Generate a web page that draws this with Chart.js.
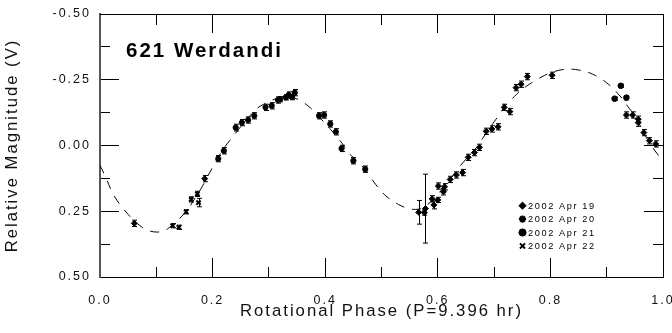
<!DOCTYPE html>
<html><head><meta charset="utf-8">
<script src="https://cdn.jsdelivr.net/npm/chart.js@4/dist/chart.umd.min.js"></script>
<style>html,body{margin:0;padding:0;background:#fff;}</style>
</head><body>
<canvas id="c" width="672" height="333"></canvas>
<script>
// ---- data ----
const titleText = '621 Werdandi';
const xAxisTitle = 'Rotational Phase (P=9.396 hr)';
const yAxisTitle = 'Relative Magnitude (V)';
const seriesLabels = ['2002 Apr 19', '2002 Apr 20', '2002 Apr 21', '2002 Apr 22'];
const seriesStyles = ['rectRot', 'star', 'circle', 'crossRot'];

const apr19Phase = [0.061, 0.186, 0.566, 0.576, 0.578, 0.590, 0.593, 0.600, 0.601, 0.610, 0.612, 0.622, 0.633, 0.644, 0.654, 0.665, 0.674, 0.686, 0.696, 0.707, 0.718, 0.728, 0.739, 0.748, 0.759, 0.803, 0.935, 0.946, 0.956, 0.956, 0.966, 0.976, 0.987];
const apr19Mag   = [0.296, 0.126, 0.254, 0.255, 0.240, 0.203, 0.226, 0.207, 0.154, 0.176, 0.157, 0.129, 0.112, 0.103, 0.045, 0.027, 0.007, -0.054, -0.063, -0.071, -0.145, -0.129, -0.220, -0.233, -0.262, -0.267, -0.116, -0.116, -0.100, -0.087, -0.049, -0.018, -0.006];
const apr19Err   = [0.012, 0.012, 0.045, 0.010, 0.131, 0.012, 0.015, 0.010, 0.012, 0.012, 0.012, 0.012, 0.012, 0.012, 0.012, 0.012, 0.012, 0.012, 0.012, 0.012, 0.012, 0.012, 0.012, 0.012, 0.012, 0.012, 0.012, 0.012, 0.012, 0.014, 0.012, 0.012, 0.012];

const apr20Phase = [0.210, 0.220, 0.241, 0.252, 0.263, 0.274, 0.294, 0.305, 0.316, 0.320, 0.330, 0.335, 0.341, 0.346, 0.389, 0.398, 0.409, 0.419, 0.429, 0.450, 0.471];
const apr20Mag   = [0.050, 0.020, -0.068, -0.087, -0.097, -0.113, -0.145, -0.151, -0.173, -0.176, -0.183, -0.192, -0.184, -0.201, -0.113, -0.116, -0.082, -0.052, 0.011, 0.058, 0.090];
const apr20Err   = [0.012, 0.012, 0.013, 0.012, 0.012, 0.012, 0.012, 0.012, 0.012, 0.010, 0.010, 0.012, 0.010, 0.012, 0.012, 0.012, 0.012, 0.012, 0.012, 0.012, 0.012];

const apr21Phase = [0.914, 0.925, 0.935];
const apr21Mag   = [-0.178, -0.227, -0.182];
const apr21Err   = [0.006, 0.006, 0.008];

const apr22Phase = [0.129, 0.140, 0.153, 0.162, 0.173, 0.175];
const apr22Mag   = [0.305, 0.311, 0.252, 0.205, 0.184, 0.217];
const apr22Err   = [0.008, 0.008, 0.008, 0.010, 0.010, 0.016];

// dashed fit curve
const fitPhase = [0.00,0.01,0.02,0.03,0.04,0.05,0.06,0.07,0.08,0.09,0.10,0.11,0.12,0.13,0.14,0.15,0.16,0.17,0.18,0.19,0.20,0.21,0.22,0.23,0.24,0.25,0.26,0.27,0.28,0.29,0.30,0.31,0.32,0.33,0.34,0.35,0.36,0.37,0.38,0.39,0.40,0.41,0.42,0.43,0.44,0.45,0.46,0.47,0.48,0.49,0.50,0.51,0.52,0.53,0.54,0.55,0.56,0.57,0.58,0.59,0.60,0.61,0.62,0.63,0.64,0.65,0.66,0.67,0.68,0.69,0.70,0.71,0.72,0.73,0.74,0.75,0.76,0.77,0.78,0.79,0.80,0.81,0.82,0.83,0.84,0.85,0.86,0.87,0.88,0.89,0.90,0.91,0.92,0.93,0.94,0.95,0.96,0.97,0.98,0.99,1.00];
const fitMag = [0.075,0.120,0.170,0.208,0.237,0.262,0.285,0.303,0.318,0.326,0.329,0.327,0.317,0.298,0.280,0.258,0.230,0.196,0.162,0.122,0.083,0.045,0.010,-0.018,-0.045,-0.072,-0.097,-0.122,-0.143,-0.156,-0.167,-0.176,-0.182,-0.185,-0.183,-0.177,-0.165,-0.150,-0.130,-0.107,-0.084,-0.060,-0.035,-0.008,0.024,0.046,0.068,0.088,0.119,0.149,0.175,0.196,0.210,0.224,0.234,0.241,0.243,0.240,0.228,0.208,0.186,0.160,0.133,0.105,0.077,0.052,0.027,0.005,-0.028,-0.060,-0.090,-0.120,-0.152,-0.173,-0.195,-0.214,-0.229,-0.243,-0.255,-0.267,-0.276,-0.283,-0.288,-0.290,-0.290,-0.287,-0.283,-0.276,-0.266,-0.254,-0.238,-0.220,-0.197,-0.172,-0.141,-0.115,-0.073,-0.032,0.003,0.032,0.060];

// ---- build datasets ----
function pts(px, py) { return px.map((x, i) => ({x: x, y: py[i]})); }
const groups = [
  [apr19Phase, apr19Mag, apr19Err],
  [apr20Phase, apr20Mag, apr20Err],
  [apr21Phase, apr21Mag, apr21Err],
  [apr22Phase, apr22Mag, apr22Err]
];
const datasets = groups.map((g, k) => ({
  label: seriesLabels[k],
  data: pts(g[0], g[1]),
  errors: g[2],
  pointStyle: seriesStyles[k],
  pointRadius: seriesStyles[k] === 'circle' ? 2.8 : 3,
  pointBorderWidth: (seriesStyles[k] === 'star' || seriesStyles[k] === 'crossRot') ? 2 : 1,
  backgroundColor: '#000',
  borderColor: '#000',
  showLine: false,
  order: 1
}));
datasets.push({
  label: 'fit',
  data: pts(fitPhase, fitMag),
  showLine: true,
  borderColor: '#000',
  borderWidth: 1,
  borderDash: [9, 8],
  pointRadius: 0,
  tension: 0.4,
  fill: false,
  order: 2,
  isFit: true
});

const FONT = '"Liberation Sans", Arial, sans-serif';

function seg(ctx, x1, y1, x2, y2) {
  ctx.beginPath(); ctx.moveTo(x1, y1); ctx.lineTo(x2, y2); ctx.stroke();
}

function drawErrorBars(chart) {
  const ctx = chart.ctx, ys = chart.scales.y;
  ctx.save();
  ctx.setLineDash([]);
  ctx.strokeStyle = '#000';
  ctx.lineWidth = 1;
  chart.data.datasets.forEach((ds, i) => {
    if (!ds.errors) return;
    const meta = chart.getDatasetMeta(i);
    meta.data.forEach((el, j) => {
      const v = ds.data[j].y, e = ds.errors[j];
      const x = Math.round(el.x) + 0.5;
      const y1 = ys.getPixelForValue(v - e), y2 = ys.getPixelForValue(v + e);
      seg(ctx, x, y1, x, y2);
      seg(ctx, x - 2.5, y1, x + 2.5, y1);
      seg(ctx, x - 2.5, y2, x + 2.5, y2);
    });
  });
  ctx.restore();
}

function drawAnnot(chart) {
  const ctx = chart.ctx, a = chart.chartArea;
  ctx.save();
  ctx.fillStyle = '#000';
  ctx.strokeStyle = '#000';
  ctx.letterSpacing = '2px';
  ctx.font = 'bold 20.5px ' + FONT;
  ctx.textAlign = 'left';
  ctx.textBaseline = 'alphabetic';
  ctx.fillText(titleText, a.left + 26, a.top + 43);
  ctx.letterSpacing = '1.6px';
  ctx.font = '9.2px ' + FONT;
  const lx = a.left + 422.5, ly = a.top + 195, step = 13.4;
  chart.data.datasets.forEach((ds, i) => {
    if (ds.isFit) return;
    const y = ly + i * step;
    const bw = (ds.pointStyle === 'star' || ds.pointStyle === 'crossRot') ? 2 : 1;
    ctx.lineWidth = bw;
    Chart.helpers.drawPoint(ctx, {pointStyle: ds.pointStyle, radius: 3.6, rotation: 0, borderWidth: bw}, lx, y - 3.3);
    ctx.fillText(ds.label, lx + 5.5, y);
  });
  ctx.restore();
}

const overlayPlugin = {
  id: 'overlay',
  beforeDraw(chart) { chart.ctx.letterSpacing = '2px'; },
  beforeDatasetsDraw(chart) { drawErrorBars(chart); },
  afterDraw(chart) { drawAnnot(chart); }
};

function zeroPad(s) { s.paddingLeft = 0; s.paddingRight = 0; s.paddingTop = 0; s.paddingBottom = 0; }

// helper axes that only draw the frame edges and the inward tick marks
function tickAxis(axis, pos, step, len, border) {
  const cfg = {
    axis: axis,
    type: 'linear',
    position: pos,
    grid: { display: true, drawOnChartArea: false, drawTicks: true, tickLength: len, color: '#000', lineWidth: 1 },
    border: { display: border, color: '#000', width: 1 },
    ticks: { display: false, stepSize: step, autoSkip: false },
    afterFit(s) { zeroPad(s); }
  };
  if (axis === 'x') { cfg.min = 0; cfg.max = 1; }
  else { cfg.min = -0.5; cfg.max = 0.5; cfg.reverse = true; }
  return cfg;
}

new Chart(document.getElementById('c'), {
  type: 'scatter',
  data: { datasets: datasets },
  options: {
    responsive: false,
    animation: false,
    devicePixelRatio: 1,
    layout: { padding: { left: 0, right: 9, top: 14, bottom: 0 } },
    plugins: { legend: { display: false }, tooltip: { enabled: false }, title: { display: false } },
    scales: {
      x: {
        type: 'linear', position: 'bottom', min: 0, max: 1,
        grid: { display: true, drawOnChartArea: false, drawTicks: true, tickLength: -10, color: '#000', lineWidth: 1 },
        border: { display: true, color: '#000', width: 1 },
        afterFit(s) { s.height = 56; zeroPad(s); },
        ticks: {
          stepSize: 0.1, autoSkip: false, maxRotation: 0, padding: 26,
          color: '#111', font: { family: FONT, size: 12.5 },
          callback: v => (Math.abs(Math.round(v * 10)) % 2 === 0 ? v.toFixed(1) : '')
        },
        title: { display: true, text: xAxisTitle, color: '#111', font: { family: FONT, size: 16.7 }, padding: { top: 0, bottom: 12 } }
      },
      y: {
        type: 'linear', position: 'left', min: -0.5, max: 0.5, reverse: true,
        grid: { display: true, drawOnChartArea: false, drawTicks: true, tickLength: -10, color: '#000', lineWidth: 1 },
        border: { display: true, color: '#555', width: 2 },
        afterFit(s) { s.width = 100; zeroPad(s); },
        ticks: {
          stepSize: 0.125, autoSkip: false, padding: 19,
          color: '#111', font: { family: FONT, size: 12.5 },
          callback: v => (Math.abs(Math.round(v * 8)) % 2 === 0 ? v.toFixed(2) : '')
        },
        title: { display: true, text: yAxisTitle, color: '#111', font: { family: FONT, size: 16.7 }, padding: { top: 2, bottom: 0 } }
      },
      xBottomMajor: tickAxis('x', { y: 0.5 }, 0.2, -19, false),
      xTopMinor: tickAxis('x', { y: -0.5 }, 0.1, 10, true),
      xTopMajor: tickAxis('x', { y: -0.5 }, 0.2, 19, false),
      yLeftMajor: tickAxis('y', { x: 0 }, 0.25, -19, false),
      yRightMinor: tickAxis('y', { x: 1 }, 0.125, 10, true),
      yRightMajor: tickAxis('y', { x: 1 }, 0.25, 19, false)
    }
  },
  plugins: [overlayPlugin]
});
</script>
</body></html>
